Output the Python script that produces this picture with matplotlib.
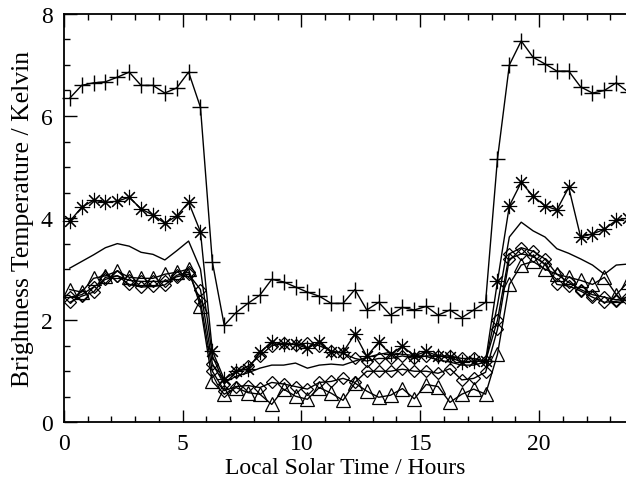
import matplotlib
matplotlib.use("Agg")
import matplotlib.pyplot as plt
import numpy as np
from matplotlib.ticker import MultipleLocator

# half-hour bins, centred at 0.25, 0.75, ... 23.75 h
hours = np.arange(0.25, 24.0, 0.5)

plus_vals = [6.35, 6.6, 6.65, 6.67, 6.76, 6.86, 6.6, 6.6, 6.45, 6.55, 6.86, 6.17,
             3.14,
             1.9, 2.15, 2.33, 2.49, 2.8, 2.75, 2.65, 2.55, 2.47, 2.33, 2.33, 2.6,
             2.2, 2.35, 2.1, 2.25, 2.2, 2.27, 2.1, 2.2, 2.05, 2.2, 2.35,
             5.16, 7.0, 7.47, 7.15, 7.02, 6.88, 6.88, 6.57, 6.45, 6.5, 6.65, 6.47]

star_vals = [3.94, 4.21, 4.35, 4.31, 4.33, 4.41, 4.18, 4.06, 3.9, 4.04, 4.31, 3.73,
             1.4,
             0.84, 1.0, 1.04, 1.37, 1.57, 1.53, 1.53, 1.45, 1.57, 1.37, 1.37, 1.73,
             1.29, 1.57, 1.33, 1.49, 1.3, 1.39, 1.3, 1.27, 1.18, 1.2, 1.2,
             2.76, 4.24, 4.7, 4.43, 4.24, 4.16, 4.6, 3.63, 3.69, 3.78, 3.96, 4.0]

line_vals = [3.02, 3.15, 3.28, 3.42, 3.5, 3.45, 3.33, 3.29, 3.18, 3.36, 3.55, 3.0,
             1.3,
             0.78, 0.9, 0.97, 1.06, 1.12, 1.12, 1.16, 1.06, 1.12, 1.14, 1.12, 1.2,
             1.27, 1.33, 1.37, 1.33, 1.31, 1.29, 1.22, 1.18, 1.12, 1.12, 1.18,
             2.3, 3.63, 3.92, 3.75, 3.63, 3.4, 3.31, 3.2, 3.08, 2.9, 3.08, 3.1]

diam1_vals = [2.45, 2.5, 2.65, 2.8, 2.87, 2.78, 2.76, 2.76, 2.76, 2.85, 2.9, 2.6,
              1.15,
              0.75, 0.98, 1.1, 1.3, 1.5, 1.55, 1.52, 1.55, 1.5, 1.4, 1.35, 1.25,
              1.2, 1.25, 1.25, 1.3, 1.25, 1.3, 1.3, 1.3, 1.25, 1.25, 1.2,
              2.0, 3.3, 3.42, 3.35, 3.2, 2.9, 2.74, 2.6, 2.5, 2.45, 2.4, 2.45]

diam2_vals = [2.35, 2.47, 2.55, 2.84, 2.87, 2.7, 2.65, 2.66, 2.69, 2.88, 2.94, 2.37,
              1.0,
              0.62, 0.7, 0.72, 0.68, 0.78, 0.75, 0.7, 0.65, 0.78, 0.8, 0.86, 0.78,
              1.0, 1.0, 1.0, 1.04, 1.0, 1.0, 0.96, 1.05, 0.83, 0.86, 0.98,
              1.82, 3.2, 3.3, 3.25, 3.1, 2.7, 2.67, 2.57, 2.45, 2.35, 2.37, 2.4]

tri_vals = [2.6, 2.55, 2.82, 2.87, 2.96, 2.84, 2.82, 2.82, 2.9, 2.94, 3.0, 2.27,
            0.8,
            0.55, 0.68, 0.58, 0.55, 0.35, 0.65, 0.51, 0.45, 0.68, 0.57, 0.43, 0.77,
            0.61, 0.49, 0.53, 0.66, 0.46, 0.74, 0.7, 0.39, 0.55, 0.65, 0.55,
            1.33, 2.7, 3.08, 3.15, 3.0, 2.9, 2.84, 2.78, 2.7, 2.84, 2.5, 2.75]

plt.rcParams["font.family"] = ["Liberation Serif", "DejaVu Serif"]

fig = plt.figure(figsize=(6.26, 4.81), dpi=100)
ax = fig.add_axes([0.102, 0.12, 0.898, 0.849])

common = dict(color="black", lw=1.0, mfc="none", mec="black", clip_on=False)
ax.plot(hours, plus_vals, marker="+", ms=11, mew=1.0, **common)
ax.plot(hours, star_vals, marker=(8, 2, 0), ms=11, mew=0.8, **common)
ax.plot(hours, line_vals, **common)
ax.plot(hours, diam1_vals, marker="D", ms=6.5, mew=0.9, **common)
ax.plot(hours, diam2_vals, marker="D", ms=6.5, mew=0.9, **common)
ax.plot(hours, tri_vals, marker="^", ms=10, mew=0.9, **common)

ax.set_xlim(0, 23.66)
ax.set_ylim(0, 8)
ax.xaxis.set_major_locator(MultipleLocator(5))
ax.xaxis.set_minor_locator(MultipleLocator(1))
ax.yaxis.set_major_locator(MultipleLocator(2))
ax.yaxis.set_minor_locator(MultipleLocator(0.5))
ax.tick_params(which="both", direction="in", top=True, right=False,
               width=1.0, labelsize=17, pad=8)
ax.tick_params(which="major", length=9)
ax.tick_params(which="minor", length=4.5)
ax.spines["right"].set_visible(False)
for side in ("left", "bottom", "top"):
    ax.spines[side].set_linewidth(1.3)

ax.set_xlabel("Local Solar Time / Hours", fontsize=17, labelpad=2)
ax.set_ylabel("Brightness Temperature / Kelvin", fontsize=18.5, labelpad=5)

fig.savefig("out.png", dpi=100)
